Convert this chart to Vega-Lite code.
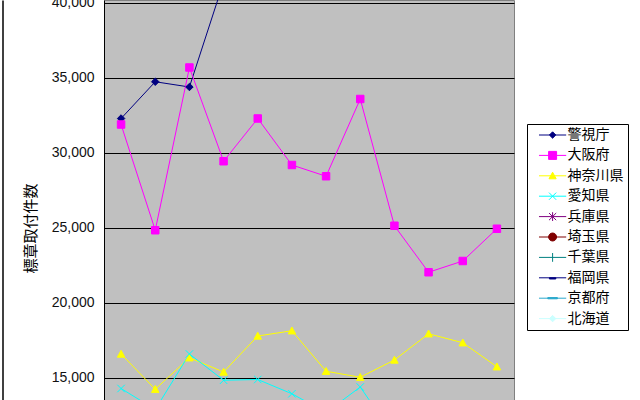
{
  "$schema": "https://vega.github.io/schema/vega-lite/v6.json",
  "width": 410,
  "height": 400,
  "autosize": {"type": "none"},
  "padding": {"left": 104, "top": 0, "right": 126, "bottom": 0},
  "background": "white",
  "config": {
    "view": {"fill": "#C0C0C0", "stroke": "#808080", "strokeWidth": 1}
  },
  "data": {
    "values": [
      {"n": 1, "s": "警視庁", "v": 32300},
      {"n": 2, "s": "警視庁", "v": 34750},
      {"n": 3, "s": "警視庁", "v": 34400},
      {"n": 4, "s": "警視庁", "v": 41400},
      {"n": 1, "s": "大阪府", "v": 31900},
      {"n": 2, "s": "大阪府", "v": 24850},
      {"n": 3, "s": "大阪府", "v": 35700},
      {"n": 4, "s": "大阪府", "v": 29450},
      {"n": 5, "s": "大阪府", "v": 32300},
      {"n": 6, "s": "大阪府", "v": 29200},
      {"n": 7, "s": "大阪府", "v": 28450},
      {"n": 8, "s": "大阪府", "v": 33600},
      {"n": 9, "s": "大阪府", "v": 25150},
      {"n": 10, "s": "大阪府", "v": 22050},
      {"n": 11, "s": "大阪府", "v": 22800},
      {"n": 12, "s": "大阪府", "v": 24950},
      {"n": 1, "s": "神奈川県", "v": 16600},
      {"n": 2, "s": "神奈川県", "v": 14250},
      {"n": 3, "s": "神奈川県", "v": 16350},
      {"n": 4, "s": "神奈川県", "v": 15400},
      {"n": 5, "s": "神奈川県", "v": 17800},
      {"n": 6, "s": "神奈川県", "v": 18150},
      {"n": 7, "s": "神奈川県", "v": 15450},
      {"n": 8, "s": "神奈川県", "v": 15050},
      {"n": 9, "s": "神奈川県", "v": 16200},
      {"n": 10, "s": "神奈川県", "v": 17950},
      {"n": 11, "s": "神奈川県", "v": 17350},
      {"n": 12, "s": "神奈川県", "v": 15750},
      {"n": 1, "s": "愛知県", "v": 14300},
      {"n": 2, "s": "愛知県", "v": 12900},
      {"n": 3, "s": "愛知県", "v": 16600},
      {"n": 4, "s": "愛知県", "v": 14850},
      {"n": 5, "s": "愛知県", "v": 14900},
      {"n": 6, "s": "愛知県", "v": 13950},
      {"n": 7, "s": "愛知県", "v": 12700},
      {"n": 8, "s": "愛知県", "v": 14400},
      {"n": 9, "s": "愛知県", "v": 11100}
    ]
  },
  "encoding": {
    "x": {
      "field": "n",
      "type": "ordinal",
      "scale": {"type": "point", "padding": 0.5, "domain": [1,2,3,4,5,6,7,8,9,10,11,12]},
      "axis": null
    },
    "y": {
      "field": "v",
      "type": "quantitative",
      "scale": {"domain": [13533.3, 40200], "nice": false, "zero": false},
      "axis": {
        "values": [15000, 20000, 25000, 30000, 35000, 40000],
        "format": ",.0f",
        "ticks": false,
        "labelPadding": 10,
        "labelFont": "Liberation Sans",
        "labelFontSize": 14,
        "labelColor": "#111",
        "grid": true,
        "gridColor": "#000",
        "gridWidth": 1,
        "gridOpacity": 1,
        "domainColor": "#000",
        "domainWidth": 1,
        "title": "標章取付件数",
        "titleFont": "Noto Sans CJK JP",
        "titleFontSize": 15,
        "titleFontWeight": "normal",
        "titleColor": "#000",
        "titleX": -74,
        "titleY": 228,
        "titleAngle": -90,
        "titleAlign": "center",
        "titleBaseline": "middle"
      }
    }
  },
  "layer": [
    {
      "mark": {"type": "line", "clip": true, "strokeWidth": 1},
      "encoding": {
        "color": {
          "field": "s", "type": "nominal",
          "scale": {
            "domain": ["警視庁", "大阪府", "神奈川県", "愛知県", "兵庫県", "埼玉県", "千葉県", "福岡県", "京都府", "北海道"],
            "range": ["#000080", "#FF00FF", "#FFFF00", "#00FFFF", "#800080", "#800000", "#008080", "#000080", "#2AA8CC", "#CCFFFF"]
          },
          "legend": null
        }
      }
    },
    {
      "mark": {"type": "point", "clip": true, "filled": true, "opacity": 1, "strokeWidth": 1, "size": 56},
      "encoding": {
        "y": {"field": "v", "type": "quantitative", "axis": null},
        "color": {
          "field": "s", "type": "nominal",
          "scale": {
            "domain": ["警視庁", "大阪府", "神奈川県", "愛知県", "兵庫県", "埼玉県", "千葉県", "福岡県", "京都府", "北海道"],
            "range": ["#000080", "#FF00FF", "#FFFF00", "#00FFFF", "#800080", "#800000", "#008080", "#000080", "#2AA8CC", "#CCFFFF"]
          },
          "legend": null
        },
        "stroke": {
          "field": "s", "type": "nominal",
          "scale": {
            "domain": ["警視庁", "大阪府", "神奈川県", "愛知県", "兵庫県", "埼玉県", "千葉県", "福岡県", "京都府", "北海道"],
            "range": ["#000080", "#FF00FF", "#FFFF00", "#00FFFF", "#800080", "#800000", "#008080", "#000080", "#2AA8CC", "#CCFFFF"]
          },
          "legend": null
        },
        "shape": {
          "field": "s", "type": "nominal",
          "scale": {
            "domain": ["警視庁", "大阪府", "神奈川県", "愛知県", "兵庫県", "埼玉県", "千葉県", "福岡県", "京都府", "北海道"],
            "range": [
              "M0,-1L1,0L0,1L-1,0Z",
              "M-1,-1H1V1H-1Z",
              "M0,-1L1,0.85H-1Z",
              "M-1,-1L1,1M-1,1L1,-1",
              "M-1,-1L1,1M-1,1L1,-1M0,-1.2V1.2",
              "M-1,0A1,1,0,1,0,1,0A1,1,0,1,0,-1,0Z",
              "M-1,0H1M0,-1V1",
              "M-0.9,-0.25H0.9V0.25H-0.9Z",
              "M-1.4,-0.2H1.4V0.2H-1.4Z",
              "M0,-1L1,0L0,1L-1,0Z"
            ]
          },
          "legend": null
        }
      }
    },
    {
      "transform": [{"filter": "false"}],
      "mark": {"type": "point", "filled": true, "opacity": 1, "strokeWidth": 1, "size": 64},
      "encoding": {
        "y": {
          "field": "v", "type": "quantitative",
          "axis": {"orient": "left", "offset": 101.5, "labels": false, "ticks": false, "grid": false, "title": null, "domainColor": "#000", "domainWidth": 1.5}
        },
        "fill": {
          "field": "s", "type": "nominal",
          "scale": {
            "domain": ["警視庁", "大阪府", "神奈川県", "愛知県", "兵庫県", "埼玉県", "千葉県", "福岡県", "京都府", "北海道"],
            "range": ["#000080", "#FF00FF", "#FFFF00", "#00FFFF", "#800080", "#800000", "#008080", "#000080", "#2AA8CC", "#CCFFFF"]
          },
          "legend": {
            "orient": "none", "legendX": 423, "legendY": 124, "title": null,
            "strokeColor": "#000", "fillColor": "#fff", "padding": 4,
            "symbolSize": 64, "symbolStrokeWidth": 1, "symbolOffset": 14.6,
            "labelOffset": 8, "rowPadding": 6.4,
            "labelFont": "Noto Sans CJK JP", "labelFontSize": 14, "labelColor": "#000"
          }
        },
        "stroke": {
          "field": "s", "type": "nominal",
          "scale": {
            "domain": ["警視庁", "大阪府", "神奈川県", "愛知県", "兵庫県", "埼玉県", "千葉県", "福岡県", "京都府", "北海道"],
            "range": ["#000080", "#FF00FF", "#FFFF00", "#00FFFF", "#800080", "#800000", "#008080", "#000080", "#2AA8CC", "#CCFFFF"]
          },
          "legend": {
            "orient": "none", "legendX": 423, "legendY": 124, "title": null,
            "strokeColor": "#000", "fillColor": "#fff", "padding": 4,
            "symbolSize": 64, "symbolStrokeWidth": 1, "symbolOffset": 14.6,
            "labelOffset": 8, "rowPadding": 6.4,
            "labelFont": "Noto Sans CJK JP", "labelFontSize": 14, "labelColor": "#000"
          }
        },
        "shape": {
          "field": "s", "type": "nominal",
          "scale": {
            "domain": ["警視庁", "大阪府", "神奈川県", "愛知県", "兵庫県", "埼玉県", "千葉県", "福岡県", "京都府", "北海道"],
            "range": [
              "M-3.4,0H3.4M0,-0.8L0.8,0L0,0.8L-0.8,0Z",
              "M-3.4,0H-1M1,0H3.4M-1,-1H1V1H-1Z",
              "M-3.4,0H3.4M0,-0.9L0.9,0.75H-0.9Z",
              "M-3.4,0H3.4M-0.9,-0.9L0.9,0.9M-0.9,0.9L0.9,-0.9",
              "M-3.4,0H3.4M-0.9,-0.9L0.9,0.9M-0.9,0.9L0.9,-0.9M0,-1.1V1.1",
              "M-3.4,0H3.4M-1,0A1,1,0,1,0,1,0A1,1,0,1,0,-1,0Z",
              "M-3.4,0H3.4M0,-1.1V1.1",
              "M-3.4,0H3.4M-0.8,0H0.8V0.3H-0.8Z",
              "M-3.4,0H3.4M-1.2,-0.15H1.2V0.15H-1.2Z",
              "M-3.4,0H3.4M0,-0.8L0.8,0L0,0.8L-0.8,0Z"
            ]
          },
          "legend": {
            "orient": "none", "legendX": 423, "legendY": 124, "title": null,
            "strokeColor": "#000", "fillColor": "#fff", "padding": 4,
            "symbolSize": 64, "symbolStrokeWidth": 1, "symbolOffset": 14.6,
            "labelOffset": 8, "rowPadding": 6.4,
            "labelFont": "Noto Sans CJK JP", "labelFontSize": 14, "labelColor": "#000"
          }
        }
      }
    }
  ],
  "resolve": {
    "scale": {"color": "independent", "shape": "independent", "stroke": "independent", "fill": "independent"},
    "legend": {"color": "independent", "shape": "independent", "stroke": "independent", "fill": "independent"},
    "axis": {"y": "independent"}
  }
}
